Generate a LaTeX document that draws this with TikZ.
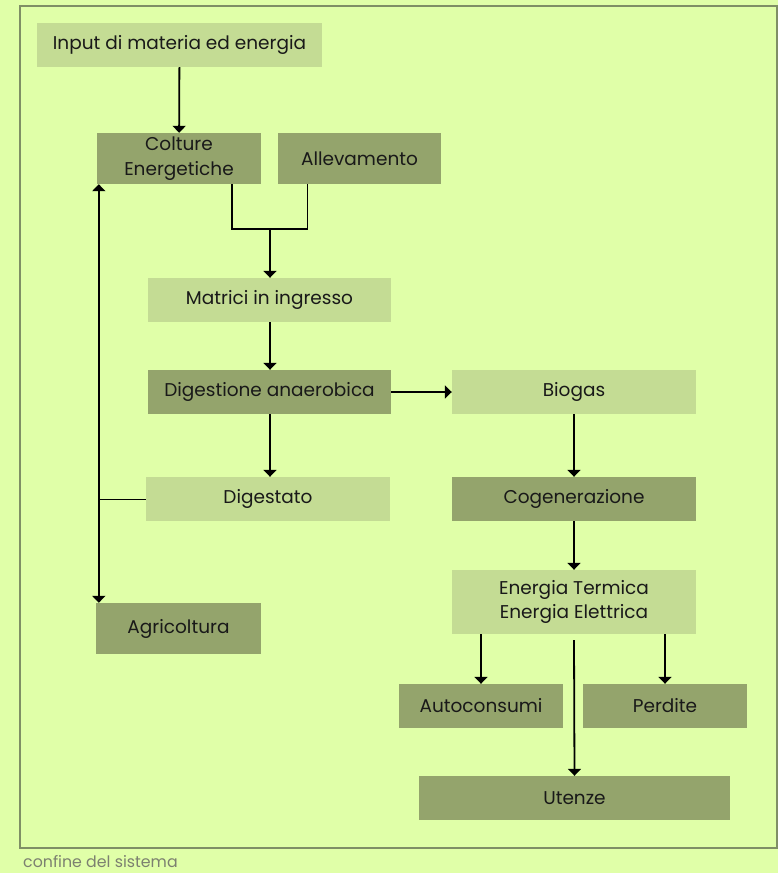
\documentclass[tikz,border=0pt]{standalone}
\usepackage{fontspec}
\setmainfont{Poppins}
\usetikzlibrary{arrows.meta}

\definecolor{bgyellow}{HTML}{E0FFA8}
\definecolor{lightgreen}{HTML}{C4DC94}
\definecolor{darkgreen}{HTML}{94A46C}
\definecolor{framegray}{HTML}{7F8F65}
\definecolor{captiongray}{HTML}{7C8070}

\begin{document}
\begin{tikzpicture}[x=1pt,y=-1pt,font=\fontsize{18.5}{24.5}\selectfont,
    box/.style={rectangle,inner sep=0pt,align=center,text=black!90},
    lightbox/.style={box,fill=lightgreen},
    darkbox/.style={box,fill=darkgreen},
    flow/.style={line width=1.8pt,-{Triangle[width=13pt,length=7pt]}}]
  % background and system boundary
  \fill[bgyellow] (0,0) rectangle (778,873);
  \useasboundingbox (0,0) rectangle (778,873);
  \draw[framegray,line width=2pt] (20,6) rectangle (777,848);
  \node[anchor=west,inner sep=0pt,text=captiongray,font=\fontsize{15.8}{18}\selectfont]
        (confine) at (23,862) {confine del sistema};
  % left column
  \node[lightbox,minimum width=285pt,minimum height=44pt] (input) at (179.5,45) {Input di materia ed energia};
  \node[darkbox,minimum width=164pt,minimum height=51pt] (colture) at (179,158.5) {Colture\\Energetiche};
  \node[darkbox,minimum width=163pt,minimum height=51pt] (allev) at (359.5,158.5) {Allevamento};
  \node[lightbox,minimum width=243pt,minimum height=44pt] (matrici) at (269.5,300) {Matrici in ingresso};
  \node[darkbox,minimum width=243pt,minimum height=44pt] (digest) at (269.5,392) {Digestione anaerobica};
  \node[lightbox,minimum width=244pt,minimum height=44pt] (digestato) at (268,499) {Digestato};
  \node[darkbox,minimum width=165pt,minimum height=51pt] (agri) at (178.5,628.5) {Agricoltura};
  % right column
  \node[lightbox,minimum width=244pt,minimum height=44pt] (biogas) at (574,392) {Biogas};
  \node[darkbox,minimum width=244pt,minimum height=44pt] (cogen) at (574,499) {Cogenerazione};
  \node[lightbox,minimum width=244pt,minimum height=64pt] (energia) at (574,602) {Energia Termica\\Energia Elettrica};
  \node[darkbox,minimum width=164pt,minimum height=44pt] (autocons) at (481,706) {Autoconsumi};
  \node[darkbox,minimum width=164pt,minimum height=44pt] (perdite) at (665,706) {Perdite};
  \node[darkbox,minimum width=311pt,minimum height=44pt] (utenze) at (574.5,798) {Utenze};
  % connectors
  \coordinate (join) at (270,229);
  \draw[flow] (input) -- (colture);
  \draw[line width=1.8pt] ([xshift=53pt]colture.south) |- (join);
  \draw[line width=1.8pt] ([xshift=-52pt]allev.south) |- (join);
  \draw[flow] (join) -- (matrici.north -| join);
  \draw[flow] (matrici.south -| join) -- (digest.north -| join);
  \draw[flow] (digest) -- (biogas);
  \draw[flow] (digest.south -| join) -- (digestato.north -| join);
  \draw[flow] (biogas) -- (cogen);
  \draw[flow] (cogen) -- (energia);
  \draw[flow] (autocons.north |- energia.south) -- (autocons.north);
  \draw[flow] (perdite.north |- energia.south) -- (perdite.north);
  \draw[flow] ([yshift=-6pt]energia.south) -- (utenze.north);
  % return of the digestate to the fields
  \draw[flow,{Triangle[width=13pt,length=7pt]}-{Triangle[width=13pt,length=7pt]}]
        ([xshift=2pt]colture.south west) -- ([xshift=3pt]agri.north west);
  \draw[line width=1pt] (digestato.west) -- ([xshift=2pt]colture.south west |- digestato.west);
\end{tikzpicture}
\end{document}
